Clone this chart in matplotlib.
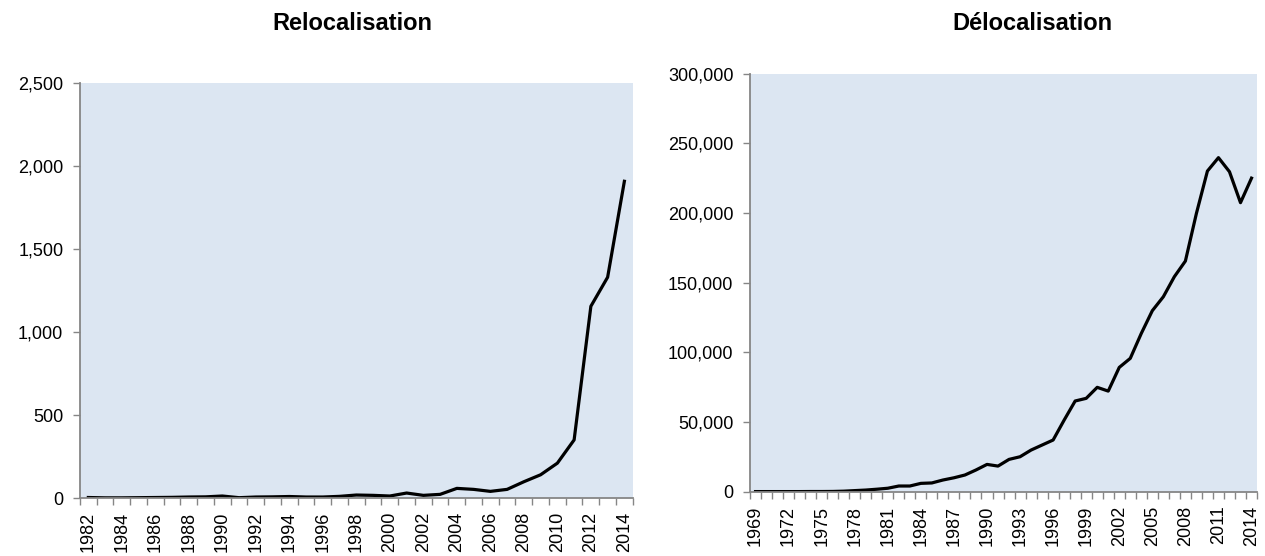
import matplotlib
matplotlib.use("Agg")
import matplotlib.pyplot as plt
from matplotlib.ticker import FuncFormatter, FixedLocator

plt.rcParams['font.family'] = ['Liberation Sans', 'DejaVu Sans']

# Relocalisation (1982-2014)
reloc_years = list(range(1982, 2015))
reloc_values = [3, 1, 1, 2, 3, 4, 6, 7, 12, 2, 6, 7, 9, 6, 6, 10, 18, 16, 12, 30,
                16, 22, 58, 52, 40, 52, 98, 140, 210, 350, 1155, 1330, 1908]

# Delocalisation (1969-2014)
deloc_years = list(range(1969, 2015))
deloc_values = [100, 100, 100, 100, 100, 150, 150, 200, 400, 800, 1200, 1800, 2500, 4100,
                4100, 6000, 6300, 8400, 10000, 12000, 15600, 19600, 18400, 23200, 25100,
                29900, 33500, 37100, 51400, 65100, 67000, 74900, 72200, 89200, 95700,
                113600, 129900, 139900, 154300, 165500, 199700, 230100, 239700, 229600,
                207400, 225000]

bg = '#dce6f2'
axis_col = '#868686'
comma = FuncFormatter(lambda v, p: f"{int(v):,}")

fig = plt.figure(figsize=(12.65, 5.56), dpi=100)
ax1 = fig.add_axes([0.0632, 0.1043, 0.437, 0.7464])
ax2 = fig.add_axes([0.5929, 0.1156, 0.4008, 0.752])


def style(ax, years, values, ymax, ystep, label_every):
    n = len(years)
    x = list(range(n))
    ax.set_facecolor(bg)
    ax.plot(x, values, color='black', lw=2.3, solid_joinstyle='round')
    ax.set_xlim(-0.5, n - 0.5)
    ax.set_ylim(0, ymax)
    ax.set_yticks(range(0, ymax + 1, ystep))
    ax.yaxis.set_major_formatter(comma)
    # labels at category centers, tick marks at boundaries
    lab_pos = [i for i in x if i % label_every == 0]
    ax.set_xticks(lab_pos)
    ax.set_xticklabels([str(years[i]) for i in lab_pos], rotation=90)
    ax.xaxis.set_minor_locator(FixedLocator([i - 0.5 for i in range(n + 1)]))
    ax.tick_params(axis='x', which='major', length=0, pad=10, labelsize=13)
    ax.tick_params(axis='x', which='minor', length=5, color=axis_col, width=1)
    ax.tick_params(axis='y', length=5, color=axis_col, width=1, pad=7, labelsize=13)
    for s in ['top', 'right']:
        ax.spines[s].set_visible(False)
    for s in ['left', 'bottom']:
        ax.spines[s].set_color(axis_col)
        ax.spines[s].set_linewidth(1.3)


style(ax1, reloc_years, reloc_values, 2500, 500, 2)
style(ax2, deloc_years, deloc_values, 300000, 50000, 3)

fig.text(352 / 1265, 1 - 23 / 556, 'Relocalisation', ha='center', va='center',
         fontsize=17, fontweight='bold')
fig.text(1032 / 1265, 1 - 23 / 556, 'Délocalisation', ha='center', va='center',
         fontsize=17, fontweight='bold')

fig.savefig('out.png', dpi=100)
